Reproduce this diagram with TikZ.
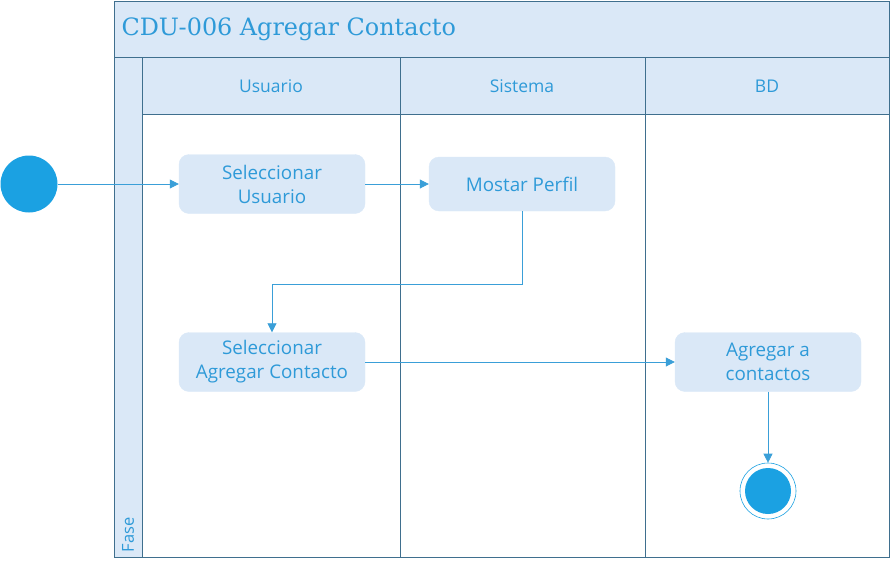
\documentclass[tikz,border=0pt]{standalone}
\usepackage{fontspec}
\setmainfont{Open Sans}
\newfontfamily\titlefont{DejaVu Serif}
\usetikzlibrary{arrows.meta}
\definecolor{lanefill}{HTML}{DAE8F7}
\definecolor{laneline}{HTML}{3F6F8E}
\definecolor{txtblue}{HTML}{2E9AD8}
\definecolor{dotblue}{HTML}{1BA1E2}
\definecolor{arrowblue}{HTML}{3A9FD8}
\tikzset{
  lanebox/.style={draw=laneline, fill=lanefill, line width=0.9pt},
  laneln/.style={draw=laneline, line width=0.9pt},
  hdr/.style={text=txtblue, font=\fontsize{17.5}{20}\selectfont},
  actbox/.style={fill=lanefill, draw=lanefill, rounded corners=10pt, minimum width=186pt, minimum height=59pt, text=txtblue, align=center, font=\fontsize{18.8}{24}\selectfont},
  flow/.style={draw=arrowblue, line width=0.8pt, -{Triangle[length=9pt,width=9pt]}},
}
\begin{document}
\begin{tikzpicture}[x=1pt,y=-1pt]
\useasboundingbox (0,0) rectangle (892,565);
% frame
\path[lanebox] (114,1) rectangle (889,57);
\path[lanebox] (142,57) rectangle (889,114);
\path[lanebox] (114,57) rectangle (142,557);
\draw[laneln] (114,1) rectangle (889,557);
\draw[laneln] (400,57) -- (400,557);
\draw[laneln] (645,57) -- (645,557);
\node[anchor=west, text=txtblue, font=\titlefont\fontsize{23.9}{26}\selectfont] (title) at (118,29) {CDU-006 Agregar Contacto};
\node[hdr] (h1) at (271,86) {Usuario};
\node[hdr] (h2) at (522,86) {Sistema};
\node[hdr] (h3) at (767,86) {BD};
\node[text=txtblue, rotate=90, anchor=west, font=\fontsize{16.5}{18}\selectfont] (fase) at (128,556) {Fase};
% nodes
\node[circle, fill=dotblue, minimum size=57pt, inner sep=0pt] (start) at (29,184) {};
\node[actbox] (selu) at (272,184) {Seleccionar\\Usuario};
\node[actbox, minimum height=54pt] (perf) at (522,184) {Mostar Perfil};
\node[actbox] (sela) at (272,362) {Seleccionar\\Agregar Contacto};
\node[actbox] (agr) at (768,362) {Agregar a\\contactos};
\node[circle, draw=dotblue, line width=0.6pt, fill=white, minimum size=56pt, inner sep=0pt] (end) at (768,491) {};
\node[circle, fill=dotblue, minimum size=46pt, inner sep=0pt] (endin) at (768,491) {};
% connectors
\draw[flow] (start) -- (selu);
\draw[flow] (selu) -- (perf);
\coordinate (c1) at (522,284);
\coordinate (c2) at (272,284);
\draw[flow] (perf.south) -- (c1) -- (c2) -- (sela.north);
\draw[flow] (sela) -- (agr);
\draw[flow] (agr) -- (end);
\end{tikzpicture}
\end{document}
